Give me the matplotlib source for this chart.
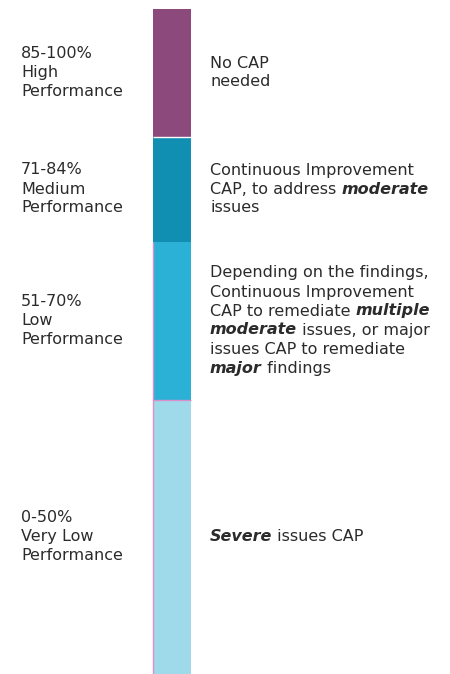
import matplotlib
matplotlib.use("Agg")
import matplotlib.pyplot as plt
import numpy as np

# ---- data ----
ranges = ["85-100%", "71-84%", "51-70%", "0-50%"]
levels = ["High", "Medium", "Low", "Very Low"]
# displayed segment heights (as drawn in the reference)
seg_heights = [128, 105, 158, 274]
colors = ["#8B4A7B", "#118FB3", "#2BB1D6", "#9FDAEB"]
actions = [
    [[("No CAP", "n")], [("needed", "n")]],
    [[("Continuous Improvement", "n")],
     [("CAP, to address ", "n"), ("moderate", "b")],
     [("issues", "n")]],
    [[("Depending on the findings,", "n")],
     [("Continuous Improvement", "n")],
     [("CAP to remediate ", "n"), ("multiple", "b")],
     [("moderate", "b"), (" issues, or major", "n")],
     [("issues CAP to remediate", "n")],
     [("major", "b"), (" findings", "n")]],
    [[("Severe", "b"), (" issues CAP", "n")]],
]

FONT = "DejaVu Sans"
FS = 11.5
TXT = "#2b2b2b"
LINE = 19

fig = plt.figure(figsize=(4.5, 6.74), dpi=100)
ax = fig.add_axes([0, 0, 1, 1])
ax.set_xlim(0, 450)
ax.set_ylim(674, 0)
ax.axis("off")

top = 8.5
bottoms = top + np.concatenate([[0], np.cumsum(seg_heights)[:-1]])
bar_x, bar_w = 171.5, 38
bars = ax.bar([bar_x] * 4, seg_heights, bottom=bottoms, width=bar_w,
              color=colors, linewidth=0)
# white separator under the purple segment
ax.hlines(bottoms[1], bar_x - bar_w / 2, bar_x + bar_w / 2, color="white", lw=1)
# thin pink edge lines
ax.vlines(bar_x - bar_w / 2 + 0.5, bottoms[2], 674, color="#D98FC8", lw=1)
ax.hlines(bottoms[3], bar_x - bar_w / 2, bar_x + bar_w / 2, color="#D98FC8", lw=1)

centers = bottoms + np.array(seg_heights) / 2


def draw_line(x, y, runs):
    prev = None
    for txt, st in runs:
        kw = dict(fontsize=FS, color=TXT, family=FONT)
        if st == "b":
            kw.update(fontweight="bold", fontstyle="italic")
        if prev is None:
            prev = ax.text(x, y, txt, ha="left", va="center", **kw)
        else:
            prev = ax.annotate(txt, xy=(1, 0), xycoords=prev, ha="left",
                               va="bottom", **kw)


for i in range(4):
    left = [ranges[i], levels[i], "Performance"]
    n = len(left)
    for j, s in enumerate(left):
        y = centers[i] + (j - (n - 1) / 2) * LINE
        ax.text(21, y, s, ha="left", va="center", fontsize=FS, color=TXT,
                family=FONT)
    lines = actions[i]
    n = len(lines)
    for j, runs in enumerate(lines):
        y = centers[i] + (j - (n - 1) / 2) * LINE
        draw_line(210, y, runs)

fig.savefig("out.png", dpi=100, facecolor="white")
